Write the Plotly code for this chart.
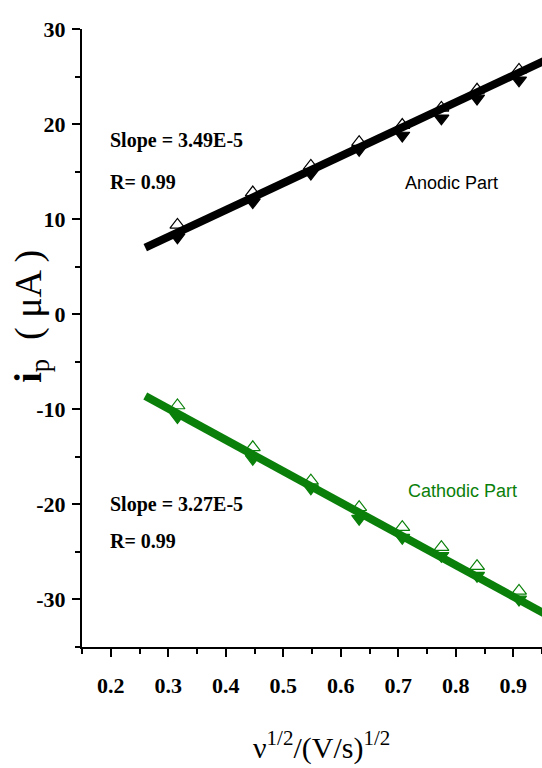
import plotly.graph_objects as go

# Data
x_sqrt_rate = [0.316, 0.447, 0.548, 0.632, 0.707, 0.775, 0.837, 0.910]
anodic_open = [9.4, 12.8, 15.6, 18.1, 19.9, 21.7, 23.6, 25.7]
anodic_filled = [8.1, 11.8, 14.8, 17.3, 18.8, 20.6, 22.7, 24.6]
cathodic_open = [-9.6, -14.0, -17.5, -20.3, -22.4, -24.5, -26.5, -29.1]
cathodic_filled = [-10.8, -15.2, -18.3, -21.5, -23.5, -25.4, -27.5, -30.0]

fit_x = [0.26, 0.97]
fit_anodic = [7.0, 27.1]
fit_cathodic = [-8.6, -32.0]

x_ticks = [0.2, 0.3, 0.4, 0.5, 0.6, 0.7, 0.8, 0.9]
y_ticks = [-30, -20, -10, 0, 10, 20, 30]

BLACK = "#000000"
GREEN = "#0a800a"
SERIF = "Liberation Serif, Times New Roman, serif"
SANS = "Liberation Sans, Arial, sans-serif"

fig = go.Figure()

for ys, sym, col in [
    (anodic_open, "triangle-up-open", BLACK),
    (anodic_filled, "triangle-down", BLACK),
    (cathodic_open, "triangle-up-open", GREEN),
    (cathodic_filled, "triangle-down", GREEN),
]:
    fig.add_trace(go.Scatter(
        x=x_sqrt_rate, y=ys, mode="markers",
        marker=dict(symbol=sym, size=13, color=col, line=dict(color=col, width=1.2)),
        showlegend=False, cliponaxis=False,
    ))

fig.add_trace(go.Scatter(x=fit_x, y=fit_anodic, mode="lines",
                         line=dict(color=BLACK, width=8), showlegend=False))
fig.add_trace(go.Scatter(x=fit_x, y=fit_cathodic, mode="lines",
                         line=dict(color=GREEN, width=8), showlegend=False))

axis_common = dict(
    showline=True, linecolor=BLACK, linewidth=2,
    ticks="outside", ticklen=8, tickwidth=2, tickcolor=BLACK,
    showgrid=False, zeroline=False,
    tickfont=dict(family=SERIF, size=22, color=BLACK, weight="bold"),
)

fig.update_xaxes(
    range=[0.15, 0.95], tickvals=x_ticks, ticktext=[f"{v:.1f}" for v in x_ticks],
    minor=dict(tickmode="linear", tick0=0.15, dtick=0.1, ticks="outside", ticklen=5,
               tickwidth=2, tickcolor=BLACK, showgrid=False),
    ticklabelstandoff=10,
    **axis_common,
)
fig.update_yaxes(
    range=[-35, 30], tickvals=y_ticks, ticktext=[str(v) for v in y_ticks],
    minor=dict(tickmode="linear", tick0=-35, dtick=10, ticks="outside", ticklen=5,
               tickwidth=2, tickcolor=BLACK, showgrid=False),
    ticklabelstandoff=2,
    **axis_common,
)

annots = [
    dict(x=0.195, y=18.3, text="<b>Slope = 3.49E-5</b>", xanchor="left", font=dict(family=SERIF, size=20, color=BLACK)),
    dict(x=0.195, y=13.9, text="<b>R= 0.99</b>", xanchor="left", font=dict(family=SERIF, size=20, color=BLACK)),
    dict(x=0.195, y=-20.0, text="<b>Slope = 3.27E-5</b>", xanchor="left", font=dict(family=SERIF, size=20, color=BLACK)),
    dict(x=0.195, y=-23.8, text="<b>R= 0.99</b>", xanchor="left", font=dict(family=SERIF, size=20, color=BLACK)),
    dict(x=0.708, y=13.8, text="Anodic Part", xanchor="left", font=dict(family=SANS, size=18, color=BLACK)),
    dict(x=0.713, y=-18.6, text="Cathodic Part", xanchor="left", font=dict(family=SANS, size=18, color=GREEN)),
]
for a in annots:
    fig.add_annotation(xref="x", yref="y", showarrow=False, yanchor="middle", **a)

fig.add_annotation(
    xref="paper", yref="paper", x=-0.11, y=0.535, textangle=-90, showarrow=False,
    text="<b>i</b><sub>p</sub>  ( μA )", xanchor="center", yanchor="middle",
    font=dict(family=SERIF, size=38, color=BLACK),
)
fig.add_annotation(
    xref="paper", yref="paper", x=0.52, y=-0.16, showarrow=False,
    text="ν<sup>1/2</sup>/(V/s)<sup>1/2</sup>", xanchor="center", yanchor="middle",
    font=dict(family=SERIF, size=30, color=BLACK),
)

fig.update_layout(
    width=542, height=768,
    margin=dict(l=82, r=0, t=29, b=121),
    plot_bgcolor="white", paper_bgcolor="white",
)

fig.write_html("out.html")
